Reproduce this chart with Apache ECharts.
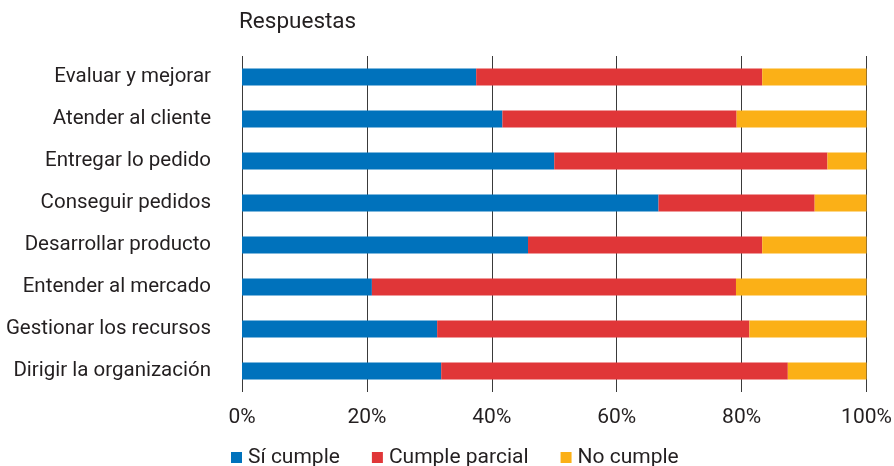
<!DOCTYPE html>
<html>
<head>
<meta charset="utf-8">
<script src="https://cdn.jsdelivr.net/npm/echarts@6/dist/echarts.min.js"></script>
<style>
  html, body { margin: 0; padding: 0; background: #fff; }
  #chart { width: 894px; height: 466px; }
</style>
</head>
<body>
<div id="chart"></div>
<script>
// Areas of the assessment, listed top to bottom
const categories = [
  'Evaluar y mejorar',
  'Atender al cliente',
  'Entregar lo pedido',
  'Conseguir pedidos',
  'Desarrollar producto',
  'Entender al mercado',
  'Gestionar los recursos',
  'Dirigir la organización'
];

// Share of answers per area (percent)
const siCumple       = [37.5, 41.7, 50.0, 66.7, 45.8, 20.8, 31.25, 31.9];
const cumpleParcial  = [45.8, 37.5, 43.75, 25.0, 37.5, 58.3, 50.0, 55.5];
const noCumple       = [16.7, 20.8, 6.25, 8.3, 16.7, 20.9, 18.75, 12.6];

const seriesNames = ['Sí cumple', 'Cumple parcial', 'No cumple'];
const tickLabels = ['0%', '20%', '40%', '60%', '80%', '100%'];

const FONT = 'Roboto, "Noto Sans", sans-serif';
const TEXT = '#231f20';

const chart = echarts.init(document.getElementById('chart'), null, { renderer: 'canvas' });

function barSeries(name, data, color) {
  return {
    name: name,
    type: 'bar',
    stack: 'total',
    barWidth: 17,
    data: data,
    itemStyle: { color: color },
    emphasis: { disabled: true }
  };
}

chart.setOption({
  animation: false,
  textStyle: { fontFamily: FONT },
  title: {
    text: 'Respuestas',
    left: 234,
    top: 6,
    textStyle: { fontFamily: FONT, fontSize: 22.5, fontWeight: 'normal', color: TEXT }
  },
  legend: {
    data: seriesNames,
    left: 226,
    top: 442,
    icon: 'rect',
    itemWidth: 11,
    itemHeight: 11,
    itemGap: 32,
    textStyle: { fontFamily: FONT, fontSize: 21, color: TEXT, padding: [0, 0, 0, 1] }
  },
  grid: {
    left: 242, right: 27.5, top: 56, bottom: 74,
    containLabel: false,
    outerBoundsMode: 'none'
  },
  xAxis: {
    type: 'value',
    min: 0,
    max: 100,
    interval: 20,
    axisLine: { show: false },
    axisTick: { show: false },
    splitLine: { show: true, lineStyle: { color: '#3a3a3a', width: 1 } },
    axisLabel: {
      margin: 15,
      fontFamily: FONT,
      fontSize: 21,
      color: TEXT,
      formatter: function (v) { return tickLabels[Math.round(v / 20)]; }
    }
  },
  yAxis: {
    type: 'category',
    data: categories,
    inverse: true,
    axisLine: { show: false },
    axisTick: { show: false },
    axisLabel: {
      margin: 31,
      padding: [4, 0, 0, 0],
      fontFamily: FONT,
      fontSize: 20.5,
      color: TEXT
    }
  },
  series: [
    barSeries(seriesNames[0], siCumple, '#0072bc'),
    barSeries(seriesNames[1], cumpleParcial, '#e03638'),
    barSeries(seriesNames[2], noCumple, '#fbb017')
  ]
});
</script>
</body>
</html>
